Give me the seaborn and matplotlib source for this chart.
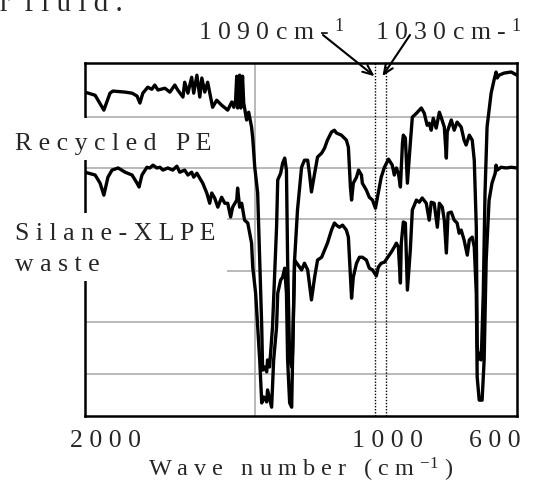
import matplotlib
matplotlib.use("Agg")
import matplotlib.pyplot as plt
import matplotlib.transforms as mtransforms
from matplotlib.patches import Rectangle
import pandas as pd
import seaborn as sns

# IR spectra (wave number in cm-1, transmittance in arbitrary %)
wn_recycled = [2086, 2051, 2021, 2000, 1990, 1948, 1924, 1907, 1897, 1887, 1870, 1856, 1846, 1835,
               1811, 1794, 1777, 1767, 1749, 1743, 1732, 1719, 1712, 1701, 1691, 1684, 1674, 1664,
               1647, 1633, 1616, 1595, 1581, 1574, 1568, 1564, 1561, 1554, 1550, 1544, 1540, 1530,
               1523, 1513, 1509, 1502, 1492, 1485, 1478, 1475, 1468, 1461, 1458, 1451, 1441, 1427,
               1423, 1413, 1406, 1399, 1393, 1389, 1382, 1375, 1372, 1365, 1355, 1341, 1331, 1320,
               1314, 1307, 1296, 1286, 1272, 1262, 1252, 1238, 1228, 1221, 1204, 1187, 1180, 1173,
               1169, 1163, 1152, 1145, 1135, 1132, 1118, 1108, 1097, 1087, 1080, 1067, 1056, 1042,
               1029, 1022, 1015, 1008, 1001, 994, 991, 984, 977, 967, 960, 946, 929, 919, 909, 902,
               895, 888, 878, 867, 861, 850, 843, 840, 826, 816, 806, 792, 782, 775, 764, 754, 747,
               740, 737, 734, 727, 723, 716, 710, 703, 689, 679, 672, 668, 662, 644, 620, 600]
t_recycled = [91.8, 90.9, 86.7, 91.5, 92.1, 91.8, 91.5, 90.7, 88.7, 91.5, 93.2, 92.6, 93.8, 92.4,
              92.9, 91.8, 93.8, 92.4, 90.4, 94.6, 91.5, 96.0, 91.5, 96.6, 90.4, 95.8, 91.8, 94.6,
              87.5, 89.5, 88.1, 86.7, 89.0, 87.5, 89.5, 96.3, 87.3, 96.6, 87.3, 96.3, 88.7, 83.9,
              86.1, 81.9, 78.8, 70.5, 63.2, 44.2, 25.2, 13.0, 13.9, 12.5, 15.9, 13.9, 25.2, 53.5,
              66.9, 68.8, 71.7, 73.1, 69.7, 44.2, 15.9, 13.9, 17.8, 44.2, 58.4, 70.5, 72.5, 72.5,
              68.8, 63.5, 68.8, 73.4, 74.5, 75.9, 78.2, 80.5, 81.0, 80.2, 79.6, 78.2, 76.2, 64.9,
              61.2, 66.0, 67.7, 69.7, 68.3, 66.0, 64.0, 62.0, 61.2, 58.9, 62.0, 67.7, 70.5, 72.8,
              71.1, 68.3, 70.3, 68.8, 64.9, 77.3, 79.6, 78.8, 66.0, 77.3, 84.7, 85.8, 87.3, 85.8,
              82.4, 83.0, 81.0, 84.4, 81.6, 86.1, 84.7, 81.9, 73.1, 80.5, 83.9, 81.0, 83.3, 81.9,
              78.2, 76.8, 79.6, 78.2, 72.5, 53.5, 20.7, 15.9, 17.8, 15.9, 34.8, 63.2, 81.9, 91.5,
              95.2, 97.5, 95.8, 96.6, 97.2, 97.5, 96.6]

wn_silane = [2086, 2051, 2034, 2021, 2007, 1993, 1972, 1948, 1924, 1907, 1900, 1890, 1873, 1863,
             1852, 1839, 1828, 1818, 1801, 1784, 1770, 1760, 1743, 1732, 1719, 1712, 1701, 1691,
             1681, 1667, 1657, 1650, 1640, 1629, 1616, 1605, 1595, 1585, 1578, 1564, 1561, 1554,
             1547, 1537, 1526, 1513, 1509, 1499, 1492, 1485, 1478, 1471, 1461, 1458, 1444, 1437,
             1427, 1423, 1413, 1406, 1399, 1393, 1389, 1382, 1375, 1372, 1365, 1348, 1341, 1331,
             1320, 1307, 1296, 1286, 1272, 1262, 1252, 1238, 1228, 1221, 1211, 1200, 1187, 1180,
             1173, 1169, 1163, 1152, 1142, 1132, 1118, 1108, 1097, 1084, 1077, 1067, 1056, 1046,
             1032, 1022, 1015, 1008, 1001, 998, 991, 984, 977, 967, 960, 946, 936, 926, 912, 902,
             895, 885, 874, 867, 857, 850, 843, 837, 826, 816, 806, 799, 792, 782, 771, 764, 754,
             747, 740, 737, 730, 720, 713, 706, 696, 686, 675, 672, 668, 655, 637, 620, 600]
t_silane = [69.1, 68.3, 66.0, 62.6, 67.7, 69.7, 70.3, 69.1, 68.3, 66.0, 64.9, 68.3, 70.5, 70.3,
            71.1, 70.3, 70.5, 69.7, 70.3, 69.7, 70.8, 69.1, 69.7, 68.3, 69.1, 67.7, 68.8, 67.4,
            66.0, 63.2, 60.3, 63.2, 61.8, 59.2, 62.0, 60.3, 60.3, 56.4, 59.2, 61.2, 64.6, 59.2,
            60.3, 55.5, 54.7, 49.0, 42.2, 34.8, 25.2, 15.9, 3.7, 5.4, 4.0, 7.4, 2.5, 15.9,
            25.2, 34.8, 38.5, 39.4, 41.9, 34.8, 15.9, 3.7, 2.5, 15.9, 44.2, 42.2, 41.4, 43.3,
            41.4, 32.9, 39.4, 44.2, 45.0, 47.0, 49.0, 52.7, 54.7, 54.1, 53.5, 54.1, 52.7, 50.7,
            39.4, 33.4, 39.4, 43.3, 45.0, 45.0, 44.2, 41.9, 41.4, 39.7, 42.2, 43.3, 43.6, 44.8,
            46.5, 47.9, 49.0, 47.9, 37.7, 49.0, 55.0, 54.7, 35.7, 47.0, 58.4, 61.2, 60.6, 61.8,
            60.3, 55.5, 60.6, 60.3, 53.5, 60.3, 59.2, 55.5, 46.2, 57.5, 57.8, 55.5, 54.7, 51.8,
            52.7, 49.9, 45.6, 49.9, 50.7, 47.9, 34.8, 11.1, 4.5, 4.5, 15.9, 44.2, 61.2, 66.0,
            68.8, 71.1, 69.7, 70.5, 70.3, 70.5, 70.3]

peak_marks = [1087, 1052]
peak_names = ["1090cm-", "1030cm-"]
tick_values = [2000, 1000, 600]


def spaced(s):
    # the original figure uses very wide letter spacing
    return " ".join(s)


sns.set_style("white")
plt.rcParams["font.family"] = ["Liberation Serif", "DejaVu Serif"]
plt.rcParams["mathtext.default"] = "regular"
FS = 18.5

fig = plt.figure(figsize=(5.5, 4.86), dpi=100)
ax = fig.add_axes([0.1545, 0.144, 0.7855, 0.726])

df_rec = pd.DataFrame({"wn": wn_recycled, "t": t_recycled})
df_sil = pd.DataFrame({"wn": wn_silane, "t": t_silane})
sns.lineplot(data=df_rec, x="wn", y="t", ax=ax, color="black", lw=2.4, estimator=None, sort=False)
sns.lineplot(data=df_sil, x="wn", y="t", ax=ax, color="black", lw=2.4, estimator=None, sort=False)

ax.set_xlim(2086, 600)
ax.set_ylim(0, 100)

# grid lines (minor ticks) and labelled ticks (major)
ax.set_xticks([2000, 1500, 1000], minor=True)
ax.set_yticks([11.9, 26.6, 41.1, 55.8, 70.3, 84.7], minor=True)
ax.set_yticks([])
ax.grid(which="minor", color="#a6a6a6", lw=1.1)
ax.grid(which="major", visible=False)
ax.tick_params(which="both", length=0)
ax.set_xticks(tick_values, labels=[spaced(str(v)) for v in tick_values], fontsize=FS)
ax.tick_params(axis="x", pad=10)
for lab, dx in zip(ax.get_xticklabels(), [-0.04, -0.13, -0.22]):
    lab.set_transform(lab.get_transform() + mtransforms.ScaledTranslation(dx, 0, fig.dpi_scale_trans))

for s in ax.spines.values():
    s.set_color("black")
    s.set_linewidth(1.8)

for x in peak_marks:
    ax.axvline(x, color="black", lw=1.0, ls=(0, (1, 1.2)), zorder=3)

ax.set_xlabel(spaced("Wave number (cm") + " $^{-1}$ )", fontsize=17.5, labelpad=3)
ax.set_ylabel("")

# peak labels with arrows
ax.annotate("", xy=(1090, 96.3), xytext=(323 / 550, 1 - 35 / 486), textcoords="figure fraction",
            arrowprops=dict(arrowstyle="->,head_length=0.7,head_width=0.3", lw=1.5, color="black",
                            shrinkA=0, shrinkB=0), annotation_clip=False)
ax.annotate("", xy=(1063, 96.3), xytext=(410 / 550, 1 - 35 / 486), textcoords="figure fraction",
            arrowprops=dict(arrowstyle="->,head_length=0.7,head_width=0.3", lw=1.5, color="black",
                            shrinkA=0, shrinkB=0), annotation_clip=False)
fig.text(198 / 550, 1 - 40 / 486, spaced(peak_names[0]) + " $^{1}$", fontsize=FS, va="baseline")
fig.text(375 / 550, 1 - 40 / 486, spaced(peak_names[1]) + " $^{1}$", fontsize=FS, va="baseline")

# sample labels on white boxes that hide the spine and grid behind them
ax.add_patch(Rectangle((0, 1 - 160 / 486), 215 / 550, 42 / 486, transform=fig.transFigure,
                       fc="white", ec="none", zorder=5, clip_on=False))
ax.add_patch(Rectangle((0, 1 - 281 / 486), 227 / 550, 68 / 486, transform=fig.transFigure,
                       fc="white", ec="none", zorder=5, clip_on=False))
ax.text(15 / 550, 1 - 150 / 486, spaced("Recycled PE"), transform=fig.transFigure,
        fontsize=FS, va="baseline", zorder=6)
ax.text(15 / 550, 1 - 240 / 486, spaced("Silane-XLPE"), transform=fig.transFigure,
        fontsize=FS, va="baseline", zorder=6)
ax.text(15 / 550, 1 - 271 / 486, spaced("waste"), transform=fig.transFigure,
        fontsize=FS, va="baseline", zorder=6)

# clipped line of body text at the very top of the page (cut off in the reference too)
fig.text(0.0, 1 - 11 / 486, "r  " + spaced("fluid."), fontsize=21, va="baseline")

fig.savefig("out.png", dpi=100)
